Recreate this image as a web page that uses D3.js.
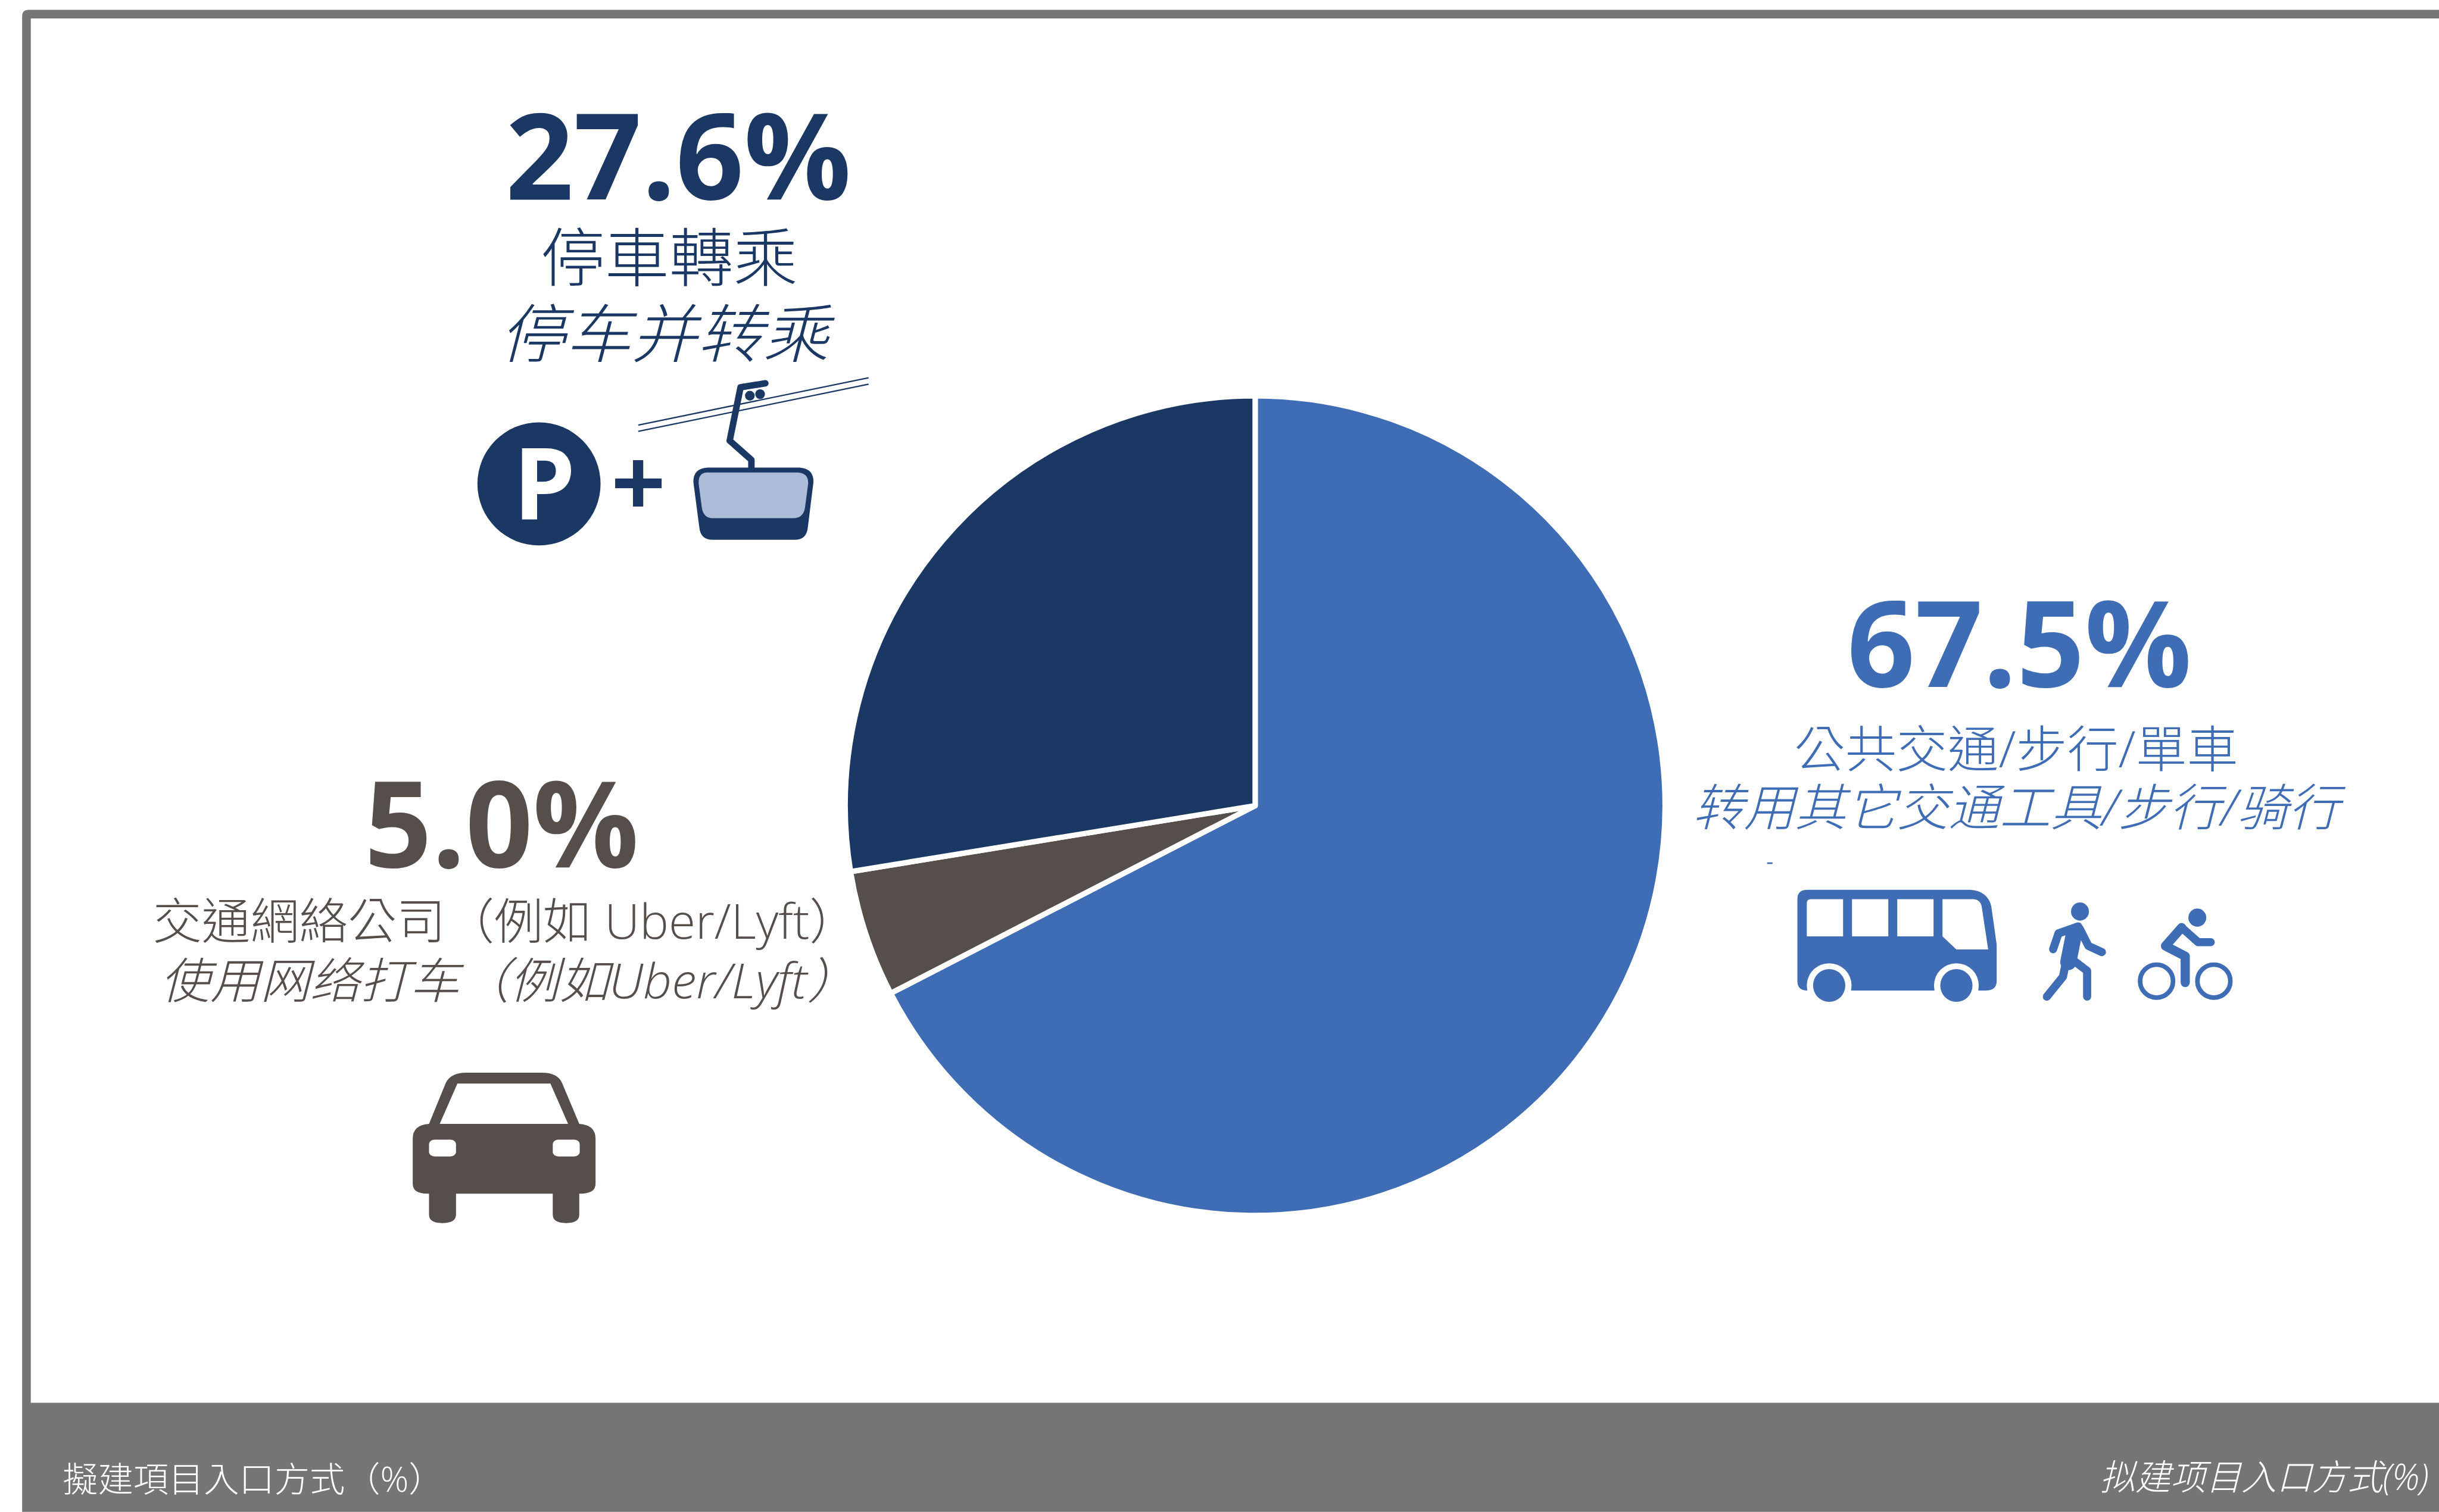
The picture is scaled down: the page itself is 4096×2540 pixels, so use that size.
<!DOCTYPE html>
<html>
<head>
<meta charset="utf-8">
<script src="https://cdnjs.cloudflare.com/ajax/libs/d3/7.8.5/d3.min.js"></script>
<style>
html, body { margin: 0; padding: 0; background: #fff; overflow: hidden; }
svg { display: block; }
</style>
</head>
<body>
<svg id="chart"></svg>
<script>
// values
var categories = ['public_transport', 'ride_hailing', 'park_and_ride'];
var shares = [67.5, 5.0, 27.6];
var slice_colors = ['#3f6db5', '#564e4b', '#1b3864'];
var trad_labels = ['公共交通/步行/單車', '交通網絡公司（例如 Uber/Lyft）', '停車轉乘'];
var simp_labels = ['转用其它交通工具/步行/骑行', '使用网络打车（例如Uber/Lyft）', '停车并转乘'];
var footer_trad = '擬建項目入口方式（%）';
var footer_simp = '拟建项目入口方式(%)';

var ref_w = 4516, ref_h = 2800;
var font_latin = '"Open Sans", ';
var font_tc = font_latin + '"Noto Sans CJK TC", sans-serif';
var font_sc = font_latin + '"Noto Sans CJK SC", sans-serif';

var svg = d3.select('#chart')
    .attr('width', 4096)
    .attr('height', 2540)
    .attr('viewBox', '0 0 ' + ref_w + ' ' + ref_h);

// frame and footer band
var band = '#757575';
svg.append('path')
    .attr('fill', band)
    .attr('d', 'M41,2800 V30 Q41,18 53,18 H' + ref_w + ' V34 H57 V2598 H' + ref_w + ' V2800 Z');

// the pie, clockwise from twelve o'clock
var pie = d3.pie().sort(null).value(function(d){ return d; });
var arc = d3.arc().innerRadius(0).outerRadius(759);

svg.append('g')
    .attr('transform', 'translate(2324,1492)')
  .selectAll('path')
  .data(pie(shares))
  .enter().append('path')
    .attr('class', function(d, i){ return categories[i]; })
    .attr('d', arc)
    .attr('fill', function(d, i){ return slice_colors[i]; })
    .attr('stroke', '#fff')
    .attr('stroke-width', 10)
    .attr('stroke-linejoin', 'round');

// helper for one line of text, squeezed to the measured width
function put_text(str, x, y, w, size, family, color, extra){
    var t = svg.append('text')
        .attr('x', x)
        .attr('y', y)
        .attr('font-size', size)
        .attr('font-family', family)
        .attr('fill', color)
        .attr('textLength', w)
        .attr('lengthAdjust', 'spacingAndGlyphs')
        .text(str);
    if(extra){
        for(var k in extra){ t.attr(k, extra[k]); }
    }
    return t;
}

var pct = d3.format('.1f');
var big = {'font-weight': 700};
var thin = {'font-weight': 300};
var thin_it = {'font-weight': 300, 'font-style': 'italic'};

// park and ride block
put_text(pct(shares[2]) + '%', 936, 369, 640, 221, font_tc, slice_colors[2], big);
put_text(trad_labels[2], 1001, 520, 476, 118, font_tc, slice_colors[2], thin);
put_text(simp_labels[2], 925, 661, 610, 118, font_sc, slice_colors[2], thin_it);

// public transport block
put_text(pct(shares[0]) + '%', 3420, 1272, 638, 221, font_tc, slice_colors[0], big);
put_text(trad_labels[0], 3322, 1421, 822, 93, font_tc, slice_colors[0], thin);
put_text(simp_labels[0], 3134, 1529, 1198, 93, font_sc, slice_colors[0], thin_it);

// ride hailing block
put_text(pct(shares[1]) + '%', 675, 1606, 508, 221, font_tc, slice_colors[1], big);
put_text(trad_labels[1], 283, 1739, 1306, 90, font_tc, slice_colors[1], thin);
put_text(simp_labels[1], 297, 1849, 1290, 90, font_sc, slice_colors[1], thin_it);

// footer
put_text(footer_trad, 116, 2763, 706, 64, font_tc, '#fff', thin);
put_text(footer_simp, 3888, 2759, 609, 66, font_sc, '#fff', thin_it);

// small stray dash next to the bus, it is in the original too
svg.append('rect').attr('x', 3272).attr('y', 1597).attr('width', 10).attr('height', 3).attr('fill', slice_colors[0]);

// The icons were traced on zoomed crops, so each group maps crop coords back.
function crop_group(x0, y0, sx, sy){
    return svg.append('g').attr('transform', 'translate(' + x0 + ',' + y0 + ') scale(' + (1 / sx) + ',' + (1 / sy) + ')');
}
function crop_line(x0, y0, sx, sy){
    return d3.line()
        .x(function(p){ return x0 + p[0] / sx; })
        .y(function(p){ return y0 + p[1] / sy; });
}
function stroke_path(d, color, w){
    svg.append('path')
        .attr('d', d)
        .attr('fill', 'none')
        .attr('stroke', color)
        .attr('stroke-width', w)
        .attr('stroke-linecap', 'round')
        .attr('stroke-linejoin', 'round');
}

// gondola + P icon
var dark = slice_colors[2];
var line1 = crop_line(800, 150, 1.742, 1.742);
[[[665, 1110], [1408, 957]], [[665, 1130], [1408, 978]]].forEach(function(pts){
    svg.append('path').attr('d', line1(pts)).attr('stroke', dark).attr('stroke-width', 2.5).attr('fill', 'none');
});
svg.append('circle').attr('cx', 998).attr('cy', 896).attr('r', 114).attr('fill', dark);
svg.append('text')
    .attr('x', 950).attr('y', 961)
    .attr('font-family', '"Open Sans", sans-serif').attr('font-weight', 700).attr('font-size', 184)
    .attr('fill', '#fff').text('P');
svg.append('rect').attr('x', 1139).attr('y', 886).attr('width', 86).attr('height', 18).attr('fill', dark);
svg.append('rect').attr('x', 1172).attr('y', 852).attr('width', 19).attr('height', 86).attr('fill', dark);

stroke_path(line1([[1075, 975], [995, 988], [960, 1160], [1030, 1222], [1030, 1255]]), dark, 12);
[[1025, 1015], [1058, 1010]].forEach(function(p){
    svg.append('circle').attr('cx', 800 + p[0] / 1.742).attr('cy', 150 + p[1] / 1.742).attr('r', 9).attr('fill', dark);
});
var gondola = crop_group(800, 150, 1.742, 1.742);
gondola.append('path').attr('fill', dark)
    .attr('d', 'M888,1247 H1185 Q1232,1250 1230,1295 L1212,1440 Q1208,1480 1170,1480 H905 Q866,1480 862,1440 L843,1295 Q841,1250 888,1247 Z');
gondola.append('path').attr('fill', '#adbdd9')
    .attr('d', 'M885,1263 H1180 Q1215,1265 1213,1300 L1203,1375 Q1198,1410 1165,1410 H905 Q875,1410 870,1375 L860,1300 Q858,1265 885,1263 Z');

// bus
var blue = slice_colors[0];
var bus = crop_group(3100, 1050, 1.206, 1.845);
bus.append('path').attr('fill', blue)
    .attr('d', 'M297,1103 H660 Q700,1106 708,1160 L720,1290 V1415 Q720,1447 695,1447 H297 Q275,1447 275,1415 V1135 Q275,1103 297,1103 Z');
bus.append('path').attr('fill', '#fff').attr('d', 'M305,1135 H377 V1262 H296 V1150 Q296,1135 305,1135 Z');
bus.append('rect').attr('fill', '#fff').attr('x', 397).attr('y', 1135).attr('width', 81).attr('height', 127);
bus.append('rect').attr('fill', '#fff').attr('x', 498).attr('y', 1135).attr('width', 81).attr('height', 127);
bus.append('path').attr('fill', '#fff').attr('d', 'M599,1135 H668 Q685,1137 687,1165 L701,1307 H630 L599,1262 Z');
[346, 630].forEach(function(cx){
    bus.append('ellipse').attr('fill', '#fff').attr('cx', cx).attr('cy', 1430).attr('rx', 50).attr('ry', 76);
    bus.append('ellipse').attr('fill', blue).attr('cx', cx).attr('cy', 1430).attr('rx', 36).attr('ry', 56);
});

// walker and cyclist
var line2 = crop_line(3100, 1050, 1.206, 1.845);
var heads = crop_group(3100, 1050, 1.206, 1.845);
heads.append('ellipse').attr('fill', blue).attr('cx', 906).attr('cy', 1177).attr('rx', 20).attr('ry', 31);
heads.append('ellipse').attr('fill', blue).attr('cx', 1168).attr('cy', 1198).attr('rx', 20).attr('ry', 31);
stroke_path(line2([[902, 1228], [858, 1252], [846, 1306]]), blue, 15);
stroke_path(line2([[905, 1235], [925, 1295], [955, 1316]]), blue, 15);
stroke_path(line2([[893, 1250], [880, 1350]]), blue, 30);
stroke_path(line2([[876, 1340], [868, 1400], [832, 1468]]), blue, 15);
stroke_path(line2([[892, 1345], [922, 1380], [922, 1468]]), blue, 15);

stroke_path(line2([[1133, 1232], [1097, 1295], [1141, 1330], [1141, 1420]]), blue, 17);
stroke_path(line2([[1133, 1232], [1170, 1282], [1198, 1282]]), blue, 15);
[1077, 1205].forEach(function(cx){
    svg.append('circle')
        .attr('cx', 3100 + cx / 1.206).attr('cy', 1050 + 1415 / 1.845).attr('r', 30.5)
        .attr('fill', 'none').attr('stroke', blue).attr('stroke-width', 8.5);
});

// car
var car = crop_group(250, 1400, 1.161, 1.742);
car.append('path').attr('fill', slice_colors[1])
    .attr('d', 'M632,1187 L668,1055 Q678,1022 712,1022 H875 Q908,1022 918,1055 L955,1187 Q990,1190 990,1235 V1380 Q990,1412 958,1412 H955 V1480 Q955,1507 927,1507 Q898,1507 898,1480 V1412 H690 V1480 Q690,1507 660,1507 Q632,1507 632,1480 V1412 H628 Q597,1412 597,1380 V1235 Q597,1190 632,1187 Z');
car.append('path').attr('fill', '#fff').attr('d', 'M655,1187 L693,1057 H893 L931,1187 Z');
[632, 898].forEach(function(x){
    car.append('rect').attr('fill', '#fff')
        .attr('x', x).attr('y', 1238).attr('width', 58).attr('height', 54)
        .attr('rx', 12).attr('ry', 14);
});
</script>
</body>
</html>
